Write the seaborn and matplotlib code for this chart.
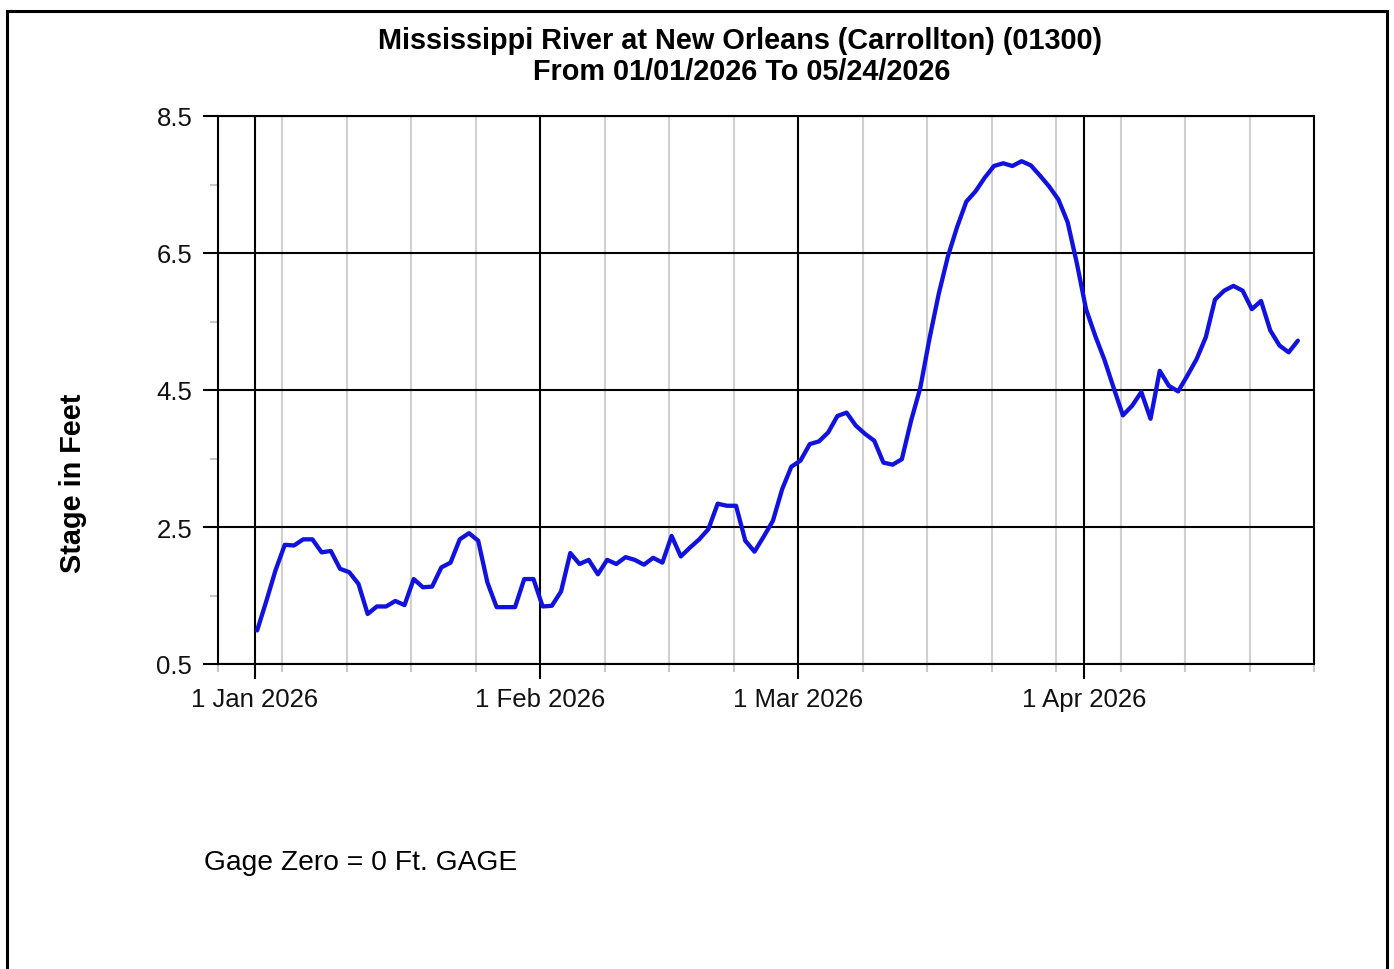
import numpy as np
import pandas as pd
import matplotlib
matplotlib.use("Agg")
import matplotlib.pyplot as plt
import matplotlib.dates as mdates
from matplotlib.patches import Rectangle
import seaborn as sns

# ---------------- data ----------------
title_line1 = "Mississippi River at New Orleans (Carrollton) (01300)"
title_line2 = "From 01/01/2026 To 05/24/2026"
y_label = "Stage in Feet"
footnote = "Gage Zero = 0 Ft. GAGE"

start_time = "2026-01-01 06:00"
stage_ft = [
    0.99, 1.42, 1.87, 2.24, 2.23, 2.32, 2.32, 2.13, 2.15, 1.89,
    1.84, 1.67, 1.23, 1.34, 1.34, 1.42, 1.36, 1.74, 1.62, 1.63,
    1.91, 1.98, 2.32, 2.41, 2.30, 1.69, 1.33, 1.33, 1.33, 1.74,
    1.74, 1.34, 1.35, 1.56, 2.12, 1.96, 2.02, 1.81, 2.02, 1.96,
    2.06, 2.02, 1.95, 2.05, 1.98, 2.37, 2.07, 2.20, 2.32, 2.47,
    2.84, 2.81, 2.81, 2.30, 2.14, 2.36, 2.59, 3.05, 3.38, 3.47,
    3.71, 3.75, 3.88, 4.12, 4.17, 3.98, 3.86, 3.76, 3.44, 3.41,
    3.49, 4.05, 4.53, 5.25, 5.90, 6.45, 6.88, 7.25, 7.40, 7.60,
    7.77, 7.81, 7.77, 7.84, 7.78, 7.63, 7.47, 7.28, 6.95, 6.35,
    5.68, 5.29, 4.94, 4.53, 4.13, 4.27, 4.47, 4.08, 4.78, 4.56,
    4.48, 4.71, 4.95, 5.27, 5.82, 5.95, 6.02, 5.95, 5.68, 5.80,
    5.37, 5.15, 5.05, 5.22,
]
y_ticks = [0.5, 2.5, 4.5, 6.5, 8.5]
y_minor_ticks = [1.5, 3.5, 5.5, 7.5]
x_start = "2025-12-28"
x_end = "2026-04-26"

df = pd.DataFrame({
    "time": pd.date_range(start_time, periods=len(stage_ft), freq="D"),
    "stage": stage_ft,
})

# ---------------- style ----------------
sns.set_theme(style="white")
plt.rcParams["font.family"] = ["Liberation Sans", "DejaVu Sans"]

W, H = 1394, 970
fig = plt.figure(figsize=(W / 100, H / 100), dpi=100)
ax = fig.add_axes([218 / W, 1 - 665 / H, (1314 - 218) / W, (665 - 117) / H])

sns.lineplot(data=df, x="time", y="stage", ax=ax, color="#1212E0",
             linewidth=3.1, zorder=5, solid_joinstyle="round",
             solid_capstyle="round")

ax.set_xlim(pd.Timestamp(x_start), pd.Timestamp(x_end))
ax.set_ylim(y_ticks[0], y_ticks[-1])
ax.set_yticks(y_ticks)
ax.set_yticks(y_minor_ticks, minor=True)
ax.set_yticklabels([f"{v:.1f}" for v in y_ticks])

ax.xaxis.set_major_locator(mdates.MonthLocator())
ax.xaxis.set_major_formatter(mdates.DateFormatter("%-d %b %Y"))
ax.xaxis.set_minor_locator(mdates.WeekdayLocator(byweekday=mdates.SU))

ax.set_axisbelow(True)
ax.grid(False)
ax.grid(which="major", axis="both", color="black", linewidth=1.5)
ax.xaxis.grid(which="minor", color="#d0d0d0", linewidth=1.5)
ax.yaxis.grid(which="minor", visible=False)

for s in ax.spines.values():
    s.set_color("black")
    s.set_linewidth(1.5)
    s.set_visible(True)

ax.tick_params(which="major", direction="out", length=10.5, width=1.5,
               color="black", labelsize=18.5, labelcolor="#111111")
ax.tick_params(axis="y", which="major", pad=8, left=True)
ax.tick_params(axis="x", which="major", pad=6, bottom=True)
ax.tick_params(which="minor", direction="out", length=5.5, width=1.5,
               color="#c8c8c8", left=True, bottom=True)

ax.set_xlabel("")
ax.set_ylabel("")

# texts
fig.text(740 / W, 1 - 41 / H, title_line1, ha="center", va="center",
         fontsize=20.8, fontweight="bold", color="black")
fig.text(742 / W, 1 - 72 / H, title_line2, ha="center", va="center",
         fontsize=20.8, fontweight="bold", color="black")
fig.text(73 / W, 1 - 483 / H, y_label, ha="center", va="center",
         rotation=90, fontsize=20.8, fontweight="bold", color="black")
fig.text(204 / W, 1 - 863 / H, footnote, ha="left", va="center",
         fontsize=20.3, color="black")

# outer frame
fig.patches.append(Rectangle((7 / W, -0.05), (1387 - 7) / W, (H - 12) / H + 0.05,
                             transform=fig.transFigure, fill=False,
                             edgecolor="black", linewidth=2.2))

fig.savefig("out.png", dpi=100, facecolor="white")
